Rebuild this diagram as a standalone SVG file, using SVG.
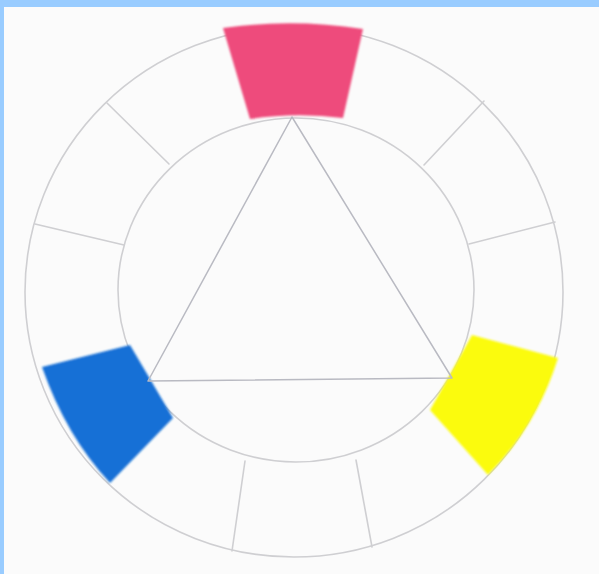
<svg xmlns="http://www.w3.org/2000/svg" width="599" height="574" viewBox="0 0 599 574">
  <defs>
    <style>
      .ln { fill: none; stroke: #cfcfd2; stroke-width: 1.6; stroke-linecap: round; }
      .tri { fill: none; stroke: #b9bac2; stroke-width: 1.5; stroke-linejoin: round; }
    </style>
    <filter id="soft" x="-10%" y="-10%" width="120%" height="120%">
      <feGaussianBlur stdDeviation="1.2"/>
    </filter>
  </defs>
  <rect x="0" y="0" width="599" height="574" fill="#fbfbfb"/>
  <rect x="0" y="0" width="599" height="7" fill="#99ccff"/>
  <rect x="0" y="0" width="4" height="574" fill="#99ccff"/>

  <g id="wheel">
    <ellipse class="ln" cx="294" cy="292" rx="269" ry="265"/>
    <ellipse class="ln" cx="296" cy="290" rx="178" ry="172"/>
  </g>

  <g id="dividers">
    <line class="ln" x1="107" y1="103" x2="169" y2="164"/>
    <line class="ln" x1="35" y1="224" x2="124" y2="245"/>
    <line class="ln" x1="424" y1="165" x2="484" y2="101"/>
    <line class="ln" x1="469" y1="244" x2="555" y2="222"/>
    <line class="ln" x1="245" y1="461" x2="232" y2="551"/>
    <line class="ln" x1="356" y1="460" x2="372" y2="547"/>
  </g>

  <g id="segments" filter="url(#soft)">
    <path d="M223 28 Q292 18 363 29 L343 118 Q296 112 250 119 Z" fill="#ee4c7b"/>
    <path d="M42 367 L130 345 L173 418 L110 483 Q66 436 42 367 Z" fill="#1570d6"/>
    <path d="M472 335 L558 358 Q537 426 488 475 L430 410 Z" fill="#fbfb10"/>
  </g>

  <g id="triangle">
    <polygon class="tri" points="292,117 148,381 452,378"/>
  </g>
</svg>
